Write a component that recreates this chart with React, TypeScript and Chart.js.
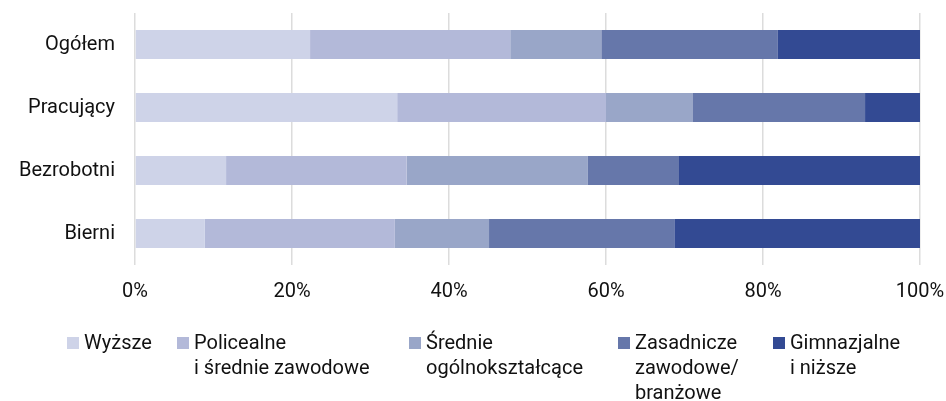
import React, { useEffect, useRef } from "react";
import { Chart, registerables } from "chart.js";

Chart.register(...registerables);

const categories = ["Ogółem", "Pracujący", "Bezrobotni", "Bierni"];
const seriesNames = [
  ["Wyższe"],
  ["Policealne", "i średnie zawodowe"],
  ["Średnie", "ogólnokształcące"],
  ["Zasadnicze", "zawodowe/", "branżowe"],
  ["Gimnazjalne", "i niższe"],
];
const wyzsze = [22.3, 33.4, 11.6, 8.9];
const policealne = [25.5, 26.6, 23.0, 24.2];
const srednie = [11.6, 11.0, 23.1, 12.0];
const zasadnicze = [22.5, 22.0, 11.6, 23.6];
const gimnazjalne = [18.1, 7.0, 30.7, 31.3];
const colors = ["#CED3E8", "#B3B9D9", "#99A6C8", "#6677AA", "#334A93"];
const xTicks = [0, 20, 40, 60, 80, 100];

const FONT = "Roboto, 'Noto Sans', sans-serif";
const legendX = [67, 177, 409, 618, 773];

export default function App() {
  const ref = useRef<HTMLCanvasElement>(null);
  useEffect(() => {
    document.body.style.margin = "0";
    const values = [wyzsze, policealne, srednie, zasadnicze, gimnazjalne];
    const chart = new Chart(ref.current!, {
      type: "bar",
      data: {
        labels: categories,
        datasets: values.map((v, i) => ({
          label: seriesNames[i].join(" "),
          data: v,
          backgroundColor: colors[i],
          borderWidth: 0,
          categoryPercentage: 1,
          barPercentage: 0.46,
        })),
      },
      options: {
        indexAxis: "y",
        animation: false,
        responsive: false,
        maintainAspectRatio: false,
        layout: { padding: { top: 13, right: 26, left: 0, bottom: 0 } },
        plugins: { legend: { display: false }, tooltip: { enabled: false } },
        scales: {
          x: {
            stacked: true,
            min: 0,
            max: 100,
            afterBuildTicks: (s: any) => {
              s.ticks = xTicks.map((v) => ({ value: v }));
            },
            afterFit: (s: any) => {
              s.height = 136;
              s.paddingLeft = 0;
              s.paddingRight = 0;
            },
            ticks: {
              padding: 15,
              color: "#111",
              font: { family: FONT, size: 20 },
              callback: (v: any) => v + "%",
            },
            grid: { color: "#DCDCDC", lineWidth: 1.5, drawTicks: false },
            border: { display: false },
          },
          y: {
            stacked: true,
            afterFit: (s: any) => {
              s.width = 135;
              s.paddingTop = 0;
              s.paddingBottom = 0;
            },
            ticks: {
              padding: 20,
              color: "#111",
              font: { family: FONT, size: 20 },
            },
            grid: { display: false, drawTicks: false },
            border: { display: false },
          },
        },
      },
    });
    return () => chart.destroy();
  }, []);

  return (
    <div style={{ position: "fixed", left: 0, top: 0, width: 946, height: 401, background: "#fff" }}>
      <canvas ref={ref} width={946} height={401} style={{ position: "absolute", left: 0, top: 0 }} />
      {seriesNames.map((lines, i) => (
        <div
          key={i}
          style={{
            position: "absolute",
            left: legendX[i],
            top: 330,
            display: "flex",
            alignItems: "flex-start",
            fontFamily: FONT,
            fontSize: 20,
            lineHeight: "25px",
            color: "#111",
            whiteSpace: "nowrap",
          }}
        >
          <div style={{ width: 12, height: 12, background: colors[i], marginTop: 7, marginRight: 5 }} />
          <div>
            {lines.map((l, j) => (
              <div key={j}>{l}</div>
            ))}
          </div>
        </div>
      ))}
    </div>
  );
}
